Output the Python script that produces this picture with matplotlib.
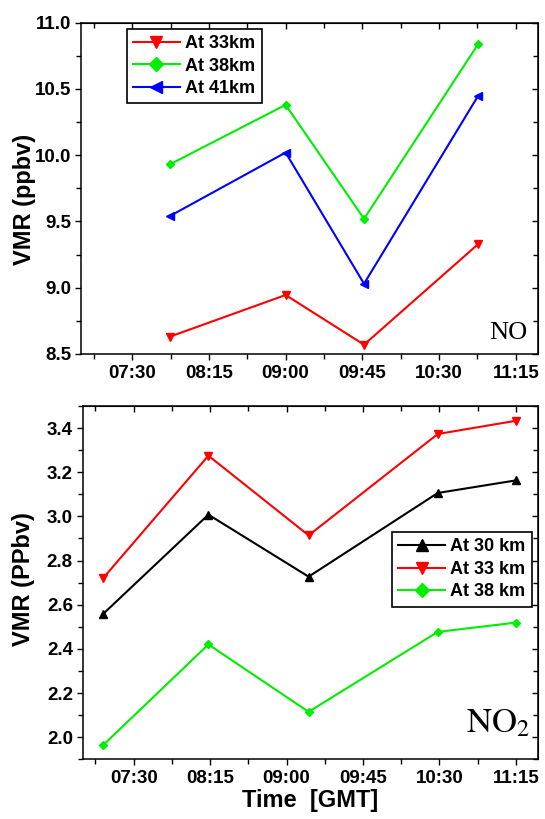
import matplotlib
matplotlib.use("Agg")
import matplotlib.pyplot as plt
from matplotlib.ticker import FixedLocator, FuncFormatter, MultipleLocator

# ---------------- data ----------------
no_times = ["07:52", "09:00", "09:46", "10:53"]
no_33km = [8.63, 8.945, 8.57, 9.33]
no_38km = [9.93, 10.38, 9.52, 10.84]
no_41km = [9.54, 10.02, 9.03, 10.45]

no2_times = ["07:12", "08:14", "09:13", "10:29", "11:15"]
no2_30km = [2.558, 3.008, 2.727, 3.106, 3.163]
no2_33km = [2.72, 3.275, 2.914, 3.373, 3.433]
no2_38km = [1.964, 2.42, 2.115, 2.477, 2.519]

xtick_labels = ["07:30", "08:15", "09:00", "09:45", "10:30", "11:15"]
no_yticks = [8.5, 9.0, 9.5, 10.0, 10.5, 11.0]
no2_yticks = [2.0, 2.2, 2.4, 2.6, 2.8, 3.0, 3.2, 3.4]


def to_min(s):
    h, m = s.split(":")
    return int(h) * 60 + int(m)


def fmt_time(v, pos=None):
    v = int(round(v))
    return "%02d:%02d" % (v // 60, v % 60)


plt.rcParams['font.family'] = ['Liberation Sans', 'DejaVu Sans']

fig = plt.figure(figsize=(5.45, 8.19), dpi=100)
ax1 = fig.add_axes([0.1486, 0.5678, 0.8385, 0.4045])
ax2 = fig.add_axes([0.1517, 0.0729, 0.8354, 0.4314])

xmaj = [to_min(t) for t in xtick_labels]
xmin_ticks = [m - 22.5 for m in xmaj] + [xmaj[-1] + 22.5]
xlo, xhi = to_min("07:00"), to_min("11:28")

lw = 1.5


def style(ax, yticks, yminor, ylim):
    ax.set_xlim(xlo, xhi)
    ax.set_ylim(*ylim)
    ax.xaxis.set_major_locator(FixedLocator(xmaj))
    ax.xaxis.set_minor_locator(FixedLocator(xmin_ticks))
    ax.xaxis.set_major_formatter(FuncFormatter(fmt_time))
    ax.yaxis.set_major_locator(FixedLocator(yticks))
    ax.yaxis.set_minor_locator(MultipleLocator(yminor))
    ax.yaxis.set_major_formatter(FuncFormatter(lambda v, p: "%.1f" % v))
    for sp in ax.spines.values():
        sp.set_linewidth(1.1)
    ax.tick_params(which='both', direction='out', width=1.0, labelsize=13.5,
                   top=False, right=False)
    ax.tick_params(which='major', length=4)
    ax.tick_params(which='minor', length=3.5)
    ax.tick_params(axis='y', pad=3)
    ax.tick_params(axis='x', pad=4)
    for lab in ax.get_xticklabels() + ax.get_yticklabels():
        lab.set_fontweight('bold')
    # inward mirrored ticks on top/right
    sx = ax.secondary_xaxis('top')
    sx.xaxis.set_major_locator(FixedLocator(xmaj))
    sx.xaxis.set_minor_locator(FixedLocator(xmin_ticks))
    sx.tick_params(which='both', direction='in', labeltop=False, width=1.0)
    sx.tick_params(which='major', length=4)
    sx.tick_params(which='minor', length=3.5)
    sy = ax.secondary_yaxis('right')
    sy.yaxis.set_major_locator(FixedLocator(yticks))
    sy.yaxis.set_minor_locator(MultipleLocator(yminor))
    sy.tick_params(which='both', direction='in', labelright=False, width=1.0)
    sy.tick_params(which='major', length=4)
    sy.tick_params(which='minor', length=3.5)


# ---------------- top: NO ----------------
t1 = [to_min(t) for t in no_times]
ax1.plot(t1, no_33km, color='#ff0000', marker='v', ms=5.5, lw=lw, label='At 33km')
ax1.plot(t1, no_38km, color='#00ee00', marker='D', ms=4.5, lw=lw, label='At 38km')
ax1.plot(t1, no_41km, color='#0000ff', marker='<', ms=5.5, lw=lw, label='At 41km')
style(ax1, no_yticks, 0.25, (8.5, 11.0))
ax1.set_ylabel('VMR (ppbv)', fontsize=17, fontweight='bold')
ax1.yaxis.set_label_coords(-0.098, 0.465)
leg1 = ax1.legend(loc='upper left', bbox_to_anchor=(0.10, 0.981), borderaxespad=0,
                  fancybox=False, framealpha=1, edgecolor='black',
                  prop={'weight': 'bold', 'size': 13}, handlelength=2.6,
                  markerscale=1.5, labelspacing=0.3, borderpad=0.35, handletextpad=0.3)
leg1.get_frame().set_linewidth(1.2)
ax1.text(0.976, 0.045, 'NO', transform=ax1.transAxes, ha='right', va='baseline',
         fontsize=19, fontweight='normal', family=['Liberation Serif', 'DejaVu Serif'])

# ---------------- bottom: NO2 ----------------
t2 = [to_min(t) for t in no2_times]
ax2.plot(t2, no2_30km, color='black', marker='^', ms=5.5, lw=lw, label='At 30 km')
ax2.plot(t2, no2_33km, color='#ff0000', marker='v', ms=5.5, lw=lw, label='At 33 km')
ax2.plot(t2, no2_38km, color='#00ee00', marker='D', ms=4.5, lw=lw, label='At 38 km')
style(ax2, no2_yticks, 0.1, (1.90, 3.50))
ax2.set_ylabel('VMR (PPbv)', fontsize=17, fontweight='bold')
ax2.yaxis.set_label_coords(-0.105, 0.51)
ax2.set_xlabel('Time  [GMT]', fontsize=17, fontweight='bold', labelpad=1)
leg2 = ax2.legend(loc='upper right', bbox_to_anchor=(0.987, 0.643), borderaxespad=0,
                  fancybox=False, framealpha=1, edgecolor='black',
                  prop={'weight': 'bold', 'size': 13}, handlelength=2.6,
                  markerscale=1.5, labelspacing=0.3, borderpad=0.35, handletextpad=0.3)
leg2.get_frame().set_linewidth(1.2)
ax2.text(0.982, 0.076, r'$\mathrm{NO_2}$', transform=ax2.transAxes, ha='right',
         va='baseline', fontsize=25, fontweight='normal', math_fontfamily='stix')

fig.savefig('out.png', dpi=100, facecolor='white')
